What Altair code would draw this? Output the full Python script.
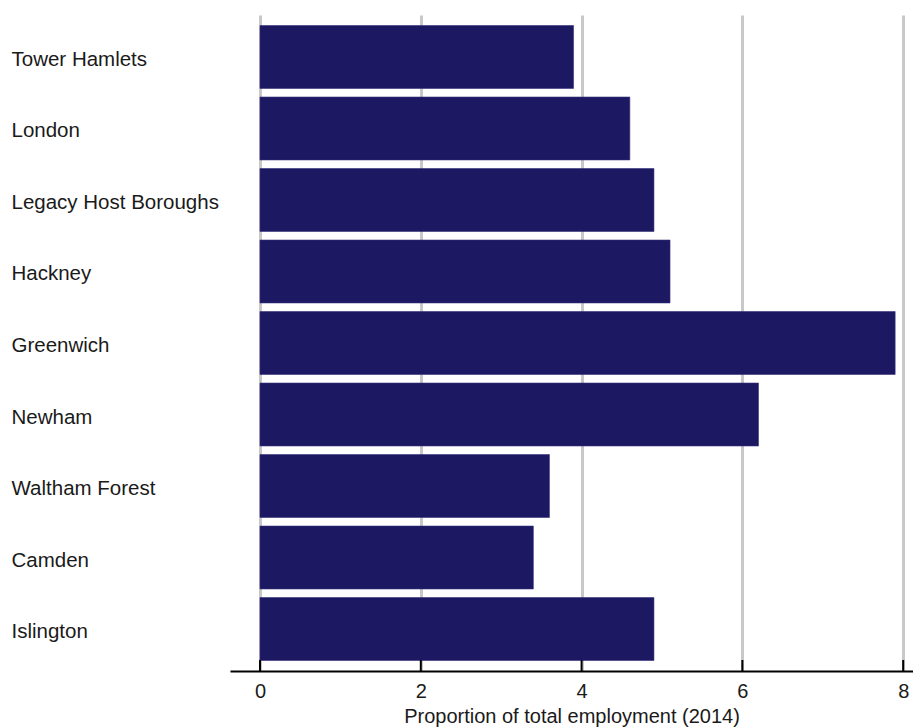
import altair as alt
import pandas as pd

regions = ["Tower Hamlets", "London", "Legacy Host Boroughs", "Hackney", "Greenwich",
           "Newham", "Waltham Forest", "Camden", "Islington"]
values = [3.9, 4.6, 4.9, 5.1, 7.9, 6.2, 3.6, 3.4, 4.9]
tick_values = [0, 2, 4, 6, 8]
x_title = "Proportion of total employment (2014)"

W, H = 683, 656
FONT = "Arial, Liberation Sans, sans-serif"

df = pd.DataFrame({"region": regions, "value": values})
ticks_df = pd.DataFrame({"value": tick_values})

xscale = alt.Scale(domain=[-0.373, 8.122], nice=False, zero=False)
xaxis = alt.Axis(values=tick_values, title=x_title, format="d",
                 titleFontSize=20, titleFontWeight="normal", titleColor="#1a1a1a",
                 titleFont=FONT, titlePadding=5,
                 labelFontSize=20, labelFont=FONT, labelColor="#1a1a1a",
                 labelPadding=10, labelFlush=False,
                 ticks=False, tickSize=0,
                 domainColor="black", domainWidth=2,
                 grid=True, gridColor="#c8c8c8", gridWidth=3)

bars = alt.Chart(df).mark_bar(color="#1c1862", stroke="#34307a", strokeWidth=0.6).encode(
    x=alt.X("value:Q", scale=xscale, axis=xaxis),
    x2=alt.datum(0),
    y=alt.Y("region:N", sort=regions,
            scale=alt.Scale(paddingInner=0.12, paddingOuter=0.147),
            axis=alt.Axis(title=None, domain=False, ticks=False, tickSize=0,
                          labelAlign="left", labelPadding=219, labelFontSize=20.5,
                          labelOffset=3,
                          labelFont=FONT, labelColor="#1a1a1a", labelLimit=400)),
)

tick_marks = alt.Chart(ticks_df).mark_rule(color="black", strokeWidth=2).encode(
    x=alt.X("value:Q", scale=xscale, axis=xaxis),
    y=alt.value(H - 11),
    y2=alt.value(H),
)

chart = alt.layer(bars, tick_marks).properties(
    width=W, height=H,
    autosize=alt.AutoSizeParams(type="none"),
    padding={"left": 222, "top": 7, "right": 0, "bottom": 57},
    background="white",
).configure_view(stroke=None)

chart.save("out.html", embed_options={"renderer": "svg", "actions": False})
